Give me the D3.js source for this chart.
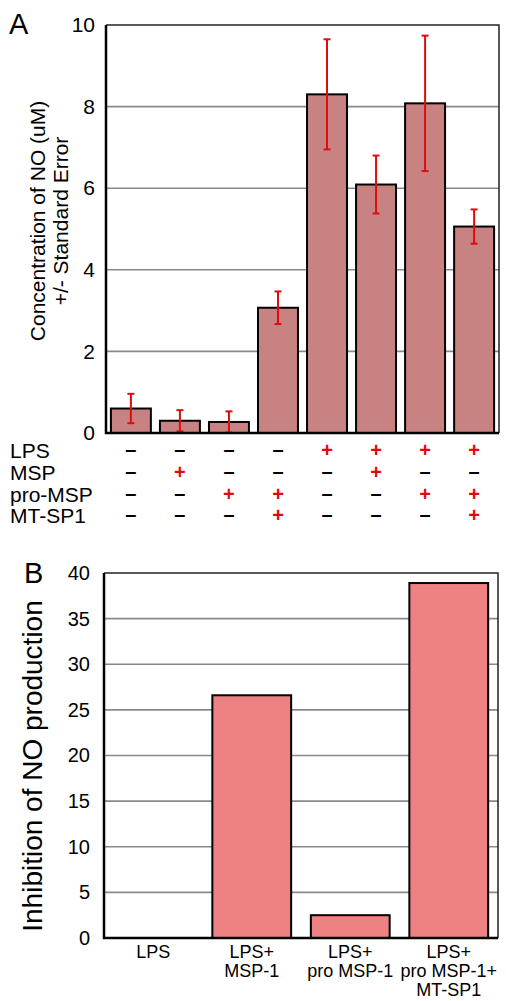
<!DOCTYPE html>
<html>
<head>
<meta charset="utf-8">
<script src="https://cdn.jsdelivr.net/npm/d3@7"></script>
<style>
  body { margin: 0; background: #fff; }
  svg { display: block; font-family: "Liberation Sans", Arial, Helvetica, sans-serif; }
</style>
</head>
<body>
<svg id="chart" width="506" height="1001"></svg>
<script>
// Panel A data: NO concentration per treatment, with standard error
const conditionsA = ['c1', 'c2', 'c3', 'c4', 'c5', 'c6', 'c7', 'c8'];
const valuesA = [0.6, 0.3, 0.27, 3.07, 8.3, 6.09, 8.08, 5.06];
const errorsA = [0.36, 0.26, 0.26, 0.4, 1.35, 0.71, 1.66, 0.42];
const ticksA = [0, 2, 4, 6, 8, 10];

// treatment table under panel A (1 = "+", 0 = "-")
const rowLabels = ['LPS', 'MSP', 'pro-MSP', 'MT-SP1'];
const lpsRow = [0, 0, 0, 0, 1, 1, 1, 1];
const mspRow = [0, 1, 0, 0, 0, 1, 0, 0];
const proMspRow = [0, 0, 1, 1, 0, 0, 1, 1];
const mtsp1Row = [0, 0, 0, 1, 0, 0, 0, 1];

// Panel B data: inhibition of NO production
const categoriesB = [['LPS'], ['LPS+', 'MSP-1'], ['LPS+', 'pro MSP-1'], ['LPS+', 'pro MSP-1+', 'MT-SP1']];
const valuesB = [0, 26.6, 2.5, 38.9];
const ticksB = [0, 5, 10, 15, 20, 25, 30, 35, 40];

const svg = d3.select('#chart');
const red = '#dd0d0d';

// ---------- Panel A ----------
const a = { left: 106, right: 499, top: 25, bottom: 433 };

const xA = d3.scaleBand()
  .domain(conditionsA)
  .range([a.left, a.right])
  .paddingInner(0.185)
  .paddingOuter(0.1);

const yA = d3.scaleLinear().domain([0, 10]).range([a.bottom, a.top]);
const midA = i => xA(conditionsA[i]) + xA.bandwidth() / 2;

const gA = svg.append('g');

// grid lines
gA.selectAll('line.grid')
  .data(ticksA.filter(t => t > 0 && t < 10))
  .enter().append('line')
  .attr('x1', a.left).attr('x2', a.right)
  .attr('y1', d => yA(d)).attr('y2', d => yA(d))
  .attr('stroke', '#8a8a8a').attr('stroke-width', 1.6);

// frame top + right
gA.append('path')
  .attr('d', `M${a.left},${a.top}H${a.right}V${a.bottom}`)
  .attr('fill', 'none').attr('stroke', '#222').attr('stroke-width', 1.5);

// bars
gA.selectAll('rect.bar')
  .data(valuesA)
  .enter().append('rect')
  .attr('x', (d, i) => xA(conditionsA[i]))
  .attr('y', d => yA(d))
  .attr('width', xA.bandwidth())
  .attr('height', d => a.bottom - yA(d))
  .attr('fill', '#c98282')
  .attr('stroke', '#000').attr('stroke-width', 2);

// error bars
const errA = gA.selectAll('g.err')
  .data(valuesA)
  .enter().append('g')
  .attr('stroke', red).attr('stroke-width', 2);

errA.append('line')
  .attr('x1', (d, i) => midA(i))
  .attr('x2', (d, i) => midA(i))
  .attr('y1', (d, i) => yA(d + errorsA[i]))
  .attr('y2', (d, i) => yA(Math.max(0, d - errorsA[i])));

[1, -1].forEach(sign => {
  errA.append('line')
    .attr('x1', (d, i) => midA(i) - 3.5)
    .attr('x2', (d, i) => midA(i) + 3.5)
    .attr('y1', (d, i) => yA(Math.max(0, d + sign * errorsA[i])))
    .attr('y2', (d, i) => yA(Math.max(0, d + sign * errorsA[i])));
});

// axes
gA.append('g')
  .attr('transform', `translate(${a.left},0)`)
  .call(d3.axisLeft(yA).tickValues(ticksA).tickSize(0).tickPadding(11))
  .call(g => g.select('.domain').remove())
  .call(g => g.selectAll('text').attr('font-size', 21).attr('fill', '#000').attr('font-family', null));

gA.append('path')
  .attr('d', `M${a.left},${a.top}V${a.bottom}H${a.right}`)
  .attr('fill', 'none').attr('stroke', '#000').attr('stroke-width', 2.5);

// y title
const titleA = gA.append('text')
  .attr('transform', `translate(45,221) rotate(-90)`)
  .attr('text-anchor', 'middle')
  .attr('font-size', 21);
titleA.append('tspan').attr('x', 0).attr('dy', 0).text('Concentration of NO (uM)');
titleA.append('tspan').attr('x', 0).attr('dy', 23).text('+/- Standard Error');

gA.append('text').attr('x', 9).attr('y', 34).attr('font-size', 29).text('A');

// treatment table
const rows = [lpsRow, mspRow, proMspRow, mtsp1Row];
const rowY = [450, 472, 494, 515];
rows.forEach((row, r) => {
  gA.append('text')
    .attr('x', 10).attr('y', rowY[r] + 7.5)
    .attr('font-size', 21)
    .text(rowLabels[r]);
  gA.selectAll(null)
    .data(row)
    .enter().append('text')
    .attr('x', (d, i) => midA(i))
    .attr('y', d => rowY[r] + (d ? 7 : 6))
    .attr('text-anchor', 'middle')
    .attr('font-size', 20)
    .attr('font-weight', 'bold')
    .attr('fill', d => d ? red : '#000')
    .text(d => d ? '+' : '–');
});

// ---------- Panel B ----------
const b = { left: 104, right: 498, top: 573, bottom: 938 };

const xB = d3.scaleBand()
  .domain(d3.range(categoriesB.length))
  .range([b.left, b.right])
  .paddingInner(0.2)
  .paddingOuter(0.1);

const yB = d3.scaleLinear().domain([0, 40]).range([b.bottom, b.top]);

const gB = svg.append('g');

gB.selectAll('line.grid')
  .data(ticksB.filter(t => t > 0 && t < 40))
  .enter().append('line')
  .attr('x1', b.left).attr('x2', b.right)
  .attr('y1', d => yB(d)).attr('y2', d => yB(d))
  .attr('stroke', '#8a8a8a').attr('stroke-width', 1.6);

gB.append('path')
  .attr('d', `M${b.left},${b.top}H${b.right}V${b.bottom}`)
  .attr('fill', 'none').attr('stroke', '#222').attr('stroke-width', 1.5);

gB.selectAll('rect.bar')
  .data(valuesB.map((v, i) => ({ v, i })).filter(d => d.v > 0))
  .enter().append('rect')
  .attr('x', d => xB(d.i))
  .attr('y', d => yB(d.v))
  .attr('width', xB.bandwidth())
  .attr('height', d => b.bottom - yB(d.v))
  .attr('fill', '#ee8282')
  .attr('stroke', '#000').attr('stroke-width', 2);

gB.append('g')
  .attr('transform', `translate(${b.left},0)`)
  .call(d3.axisLeft(yB).tickValues(ticksB).tickSize(0).tickPadding(14))
  .call(g => g.select('.domain').remove())
  .call(g => g.selectAll('text').attr('font-size', 20).attr('fill', '#000').attr('font-family', null));

gB.append('path')
  .attr('d', `M${b.left},${b.top}V${b.bottom}H${b.right}`)
  .attr('fill', 'none').attr('stroke', '#000').attr('stroke-width', 2.5);

// category labels
categoriesB.forEach((lines, i) => {
  const cx = xB(i) + xB.bandwidth() / 2;
  const t = gB.append('text')
    .attr('text-anchor', 'middle')
    .attr('font-size', 18)
    .attr('x', cx)
    .attr('y', 958);
  lines.forEach((s, k) => {
    t.append('tspan')
      .attr('x', cx)
      .attr('dy', k === 0 ? 0 : 19)
      .text(s);
  });
});

gB.append('text')
  .attr('transform', `translate(42,766) rotate(-90)`)
  .attr('text-anchor', 'middle')
  .attr('font-size', 28)
  .text('Inhibition of NO production');

gB.append('text').attr('x', 24).attr('y', 583).attr('font-size', 29).text('B');
</script>
</body>
</html>
